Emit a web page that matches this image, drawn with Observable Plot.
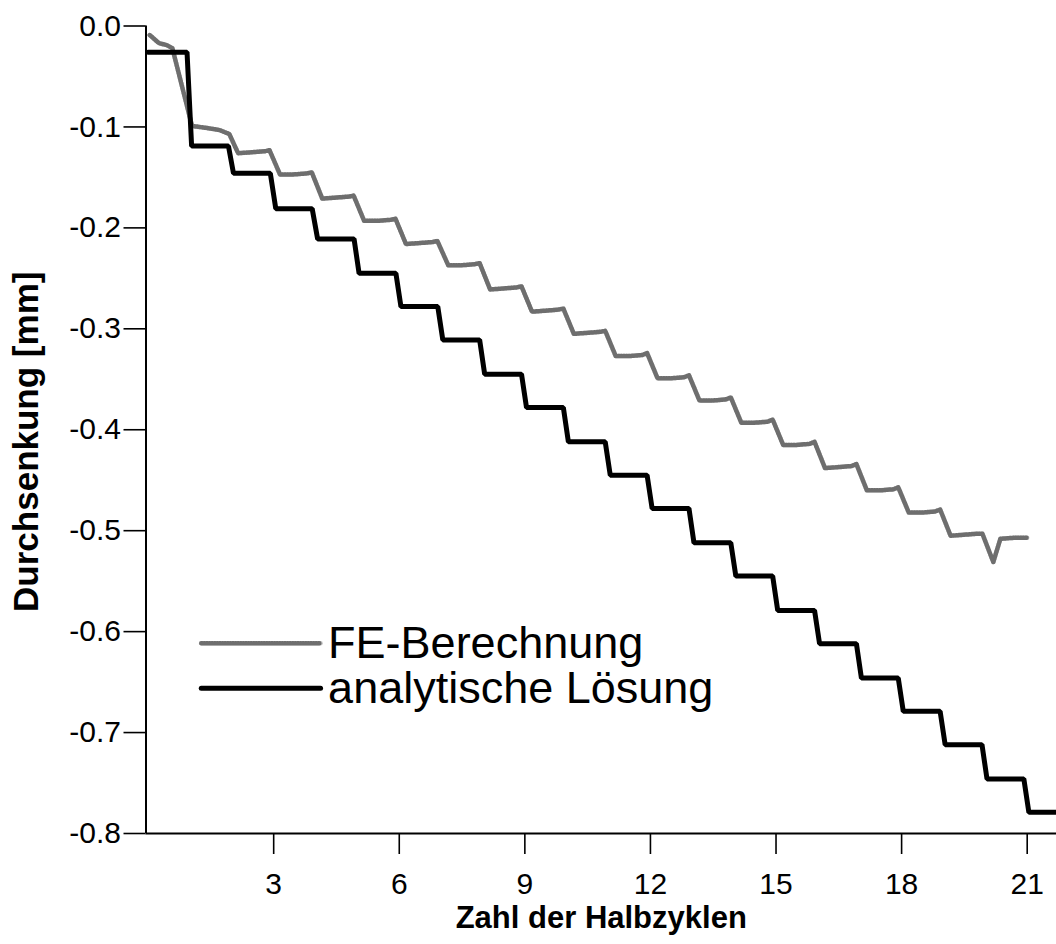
<!DOCTYPE html>
<html>
<head>
<meta charset="utf-8">
<script src="https://cdn.jsdelivr.net/npm/d3@7"></script>
<script src="https://cdn.jsdelivr.net/npm/@observablehq/plot@0.6"></script>
<style>
  html, body { margin: 0; padding: 0; background: #fff; }
  #chart svg { display: block; }
</style>
</head>
<body>
<div id="chart"></div>
<script>
// ---- Data ----
// Analytic solution: stepped curve (x = Zahl der Halbzyklen, y = Durchsenkung mm)
const anX = [0, 0.93, 1.04, 1.92, 2.04, 2.92, 3.05, 3.92, 4.05, 4.92, 5.04,
  5.92, 6.04, 6.92, 7.04, 7.92, 8.04, 8.92, 9.04, 9.92, 10.04, 10.92, 11.04,
  11.92, 12.04, 12.92, 13.04, 13.92, 14.04, 14.92, 15.04, 15.92, 16.04,
  16.92, 17.04, 17.92, 18.04, 18.92, 19.04, 19.92, 20.04, 20.92, 21.04, 21.7];
const anY = [-0.026, -0.026, -0.119, -0.119, -0.146, -0.146, -0.181, -0.181, -0.211, -0.211, -0.245,
  -0.245, -0.278, -0.278, -0.311, -0.311, -0.345, -0.345, -0.378, -0.378, -0.412, -0.412, -0.445,
  -0.445, -0.478, -0.478, -0.512, -0.512, -0.545, -0.545, -0.579, -0.579, -0.612,
  -0.612, -0.646, -0.646, -0.679, -0.679, -0.712, -0.712, -0.746, -0.746, -0.779, -0.779];

// FE calculation: wavy curve
const feX = [0.04, 0.26, 0.45, 0.58,
  1.05, 1.4, 1.7, 1.94,
  2.15, 2.5, 2.8, 2.9,
  3.15, 3.5, 3.8, 3.91,
  4.16, 4.5, 4.8, 4.91,
  5.16, 5.5, 5.8, 5.91,
  6.16, 6.5, 6.8, 6.91,
  7.17, 7.5, 7.8, 7.92,
  8.17, 8.5, 8.8, 8.92,
  9.17, 9.5, 9.8, 9.92,
  10.17, 10.5, 10.8, 10.92,
  11.17, 11.5, 11.8, 11.92,
  12.17, 12.5, 12.8, 12.92,
  13.17, 13.5, 13.8, 13.92,
  14.17, 14.5, 14.8, 14.92,
  15.17, 15.5, 15.8, 15.92,
  16.17, 16.5, 16.8, 16.92,
  17.17, 17.5, 17.8, 17.92,
  18.17, 18.5, 18.8, 18.92,
  19.17, 19.5, 19.8, 19.93,
  20.19, 20.36, 20.7, 21.0];
const feY = [-0.009, -0.017, -0.019, -0.022,
  -0.099, -0.101, -0.103, -0.107,
  -0.126, -0.125, -0.124, -0.123,
  -0.147, -0.147, -0.146, -0.145,
  -0.171, -0.170, -0.169, -0.168,
  -0.193, -0.193, -0.192, -0.191,
  -0.216, -0.215, -0.214, -0.213,
  -0.237, -0.237, -0.236, -0.235,
  -0.261, -0.260, -0.259, -0.258,
  -0.283, -0.282, -0.281, -0.280,
  -0.305, -0.304, -0.303, -0.302,
  -0.327, -0.327, -0.326, -0.324,
  -0.349, -0.349, -0.348, -0.346,
  -0.371, -0.371, -0.370, -0.368,
  -0.393, -0.393, -0.392, -0.390,
  -0.415, -0.415, -0.414, -0.412,
  -0.438, -0.437, -0.436, -0.434,
  -0.460, -0.460, -0.459, -0.457,
  -0.482, -0.482, -0.481, -0.479,
  -0.505, -0.504, -0.503, -0.503,
  -0.531, -0.508, -0.507, -0.507];

const xTicks = [3, 6, 9, 12, 15, 18, 21];
const yTicks = [0, -0.1, -0.2, -0.3, -0.4, -0.5, -0.6, -0.7, -0.8];
const xTitle = "Zahl der Halbzyklen";
const yTitle = "Durchsenkung [mm]";
const legendLabels = ["FE-Berechnung", "analytische Lösung"];

// ---- Layout constants ----
const xDomain = [-0.05, 21.7];
const yDomain = [-0.8, 0];
const legendLineX = [1.27, 4.12];
const legendTextX = 4.3;
const legendRowY = [-0.6116, -0.6562];
const FONT = "'Liberation Sans', Arial, Helvetica, sans-serif";
const FE_BASE = "#c8c8c8", FE_DOTS = "#6e6e6e";

const an = anX.map((x, i) => ({x, y: anY[i]}));
const fe = feX.map((x, i) => ({x, y: feY[i]}));
const legendFE = legendLineX.map(x => ({x, y: legendRowY[0]}));
const legendAn = legendLineX.map(x => ({x, y: legendRowY[1]}));
const legendText = legendLabels.map((label, i) => ({label, x: legendTextX, y: legendRowY[i]}));

const chart = Plot.plot({
  width: 1056,
  height: 944,
  marginTop: 25.5,
  marginBottom: 111,
  marginLeft: 145.5,
  marginRight: 0,
  style: {fontFamily: FONT, fontSize: "30px", color: "#000", background: "#fff", overflow: "visible"},
  x: {domain: xDomain},
  y: {domain: yDomain},
  marks: [
    Plot.axisX({ticks: xTicks, tickSize: 21, tickPadding: 18, strokeWidth: 1.6, fontSize: 30, label: null, tickFormat: d => String(d)}),
    Plot.axisY({ticks: yTicks, tickSize: 22, tickPadding: 3, strokeWidth: 1.6, fontSize: 30, label: null, tickFormat: d => d.toFixed(1)}),
    Plot.ruleX([xDomain[0]], {stroke: "#000", strokeWidth: 2}),
    Plot.ruleY([yDomain[0]], {stroke: "#000", strokeWidth: 2}),
    // FE line (grey, stippled look)
    Plot.line(fe, {x: "x", y: "y", stroke: FE_BASE, strokeWidth: 4.5, curve: "linear"}),
    Plot.line(fe, {x: "x", y: "y", stroke: FE_DOTS, strokeWidth: 4.5, strokeDasharray: "1.1,1.5", curve: "linear"}),
    // analytic line
    Plot.line(an, {x: "x", y: "y", stroke: "#000", strokeWidth: 5, strokeLinejoin: "miter", curve: "linear"}),
    // legend
    Plot.line(legendFE, {x: "x", y: "y", stroke: FE_BASE, strokeWidth: 4.5}),
    Plot.line(legendFE, {x: "x", y: "y", stroke: FE_DOTS, strokeWidth: 4.5, strokeDasharray: "1.1,1.5"}),
    Plot.line(legendAn, {x: "x", y: "y", stroke: "#000", strokeWidth: 5}),
    Plot.text(legendText, {x: "x", y: "y", text: "label", textAnchor: "start", lineAnchor: "middle", fontSize: 45, fill: "#000"}),
    // axis titles
    Plot.text([yTitle], {frameAnchor: "left", textAnchor: "middle", rotate: -90, dx: -119, dy: 12, fontSize: 35, fontWeight: "bold", fill: "#000"}),
    Plot.text([xTitle], {frameAnchor: "bottom", textAnchor: "middle", dy: 94, fontSize: 31, fontWeight: "bold", fill: "#000"})
  ]
});
document.getElementById("chart").appendChild(chart);
</script>
</body>
</html>
